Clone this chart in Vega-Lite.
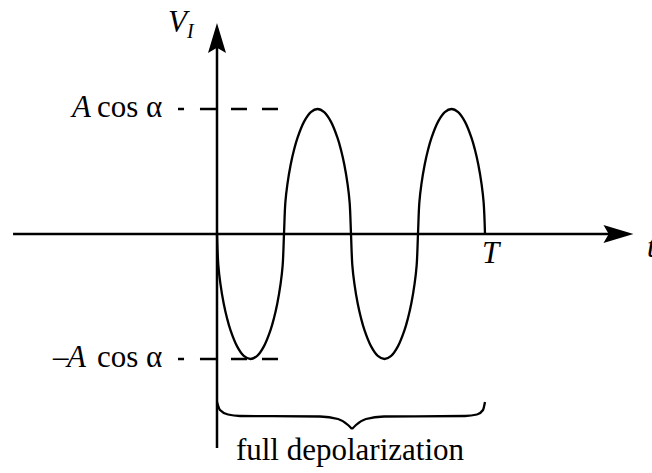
{
  "$schema": "https://vega.github.io/schema/vega-lite/v6.json",
  "width": 652,
  "height": 473,
  "autosize": {"type": "fit", "contains": "padding"},
  "padding": 0,
  "background": "white",
  "config": {"view": {"stroke": null}, "text": {"font": "Liberation Serif, Times New Roman, serif"}},
  "datasets": {
    "solid": [
      {"t": -1.522, "v": 0, "t2": 3.0, "v2": 0},
      {"t": 0, "v": -1.712, "t2": 0, "v2": 1.5},
      {"t": -0.291, "v": 1.0, "t2": -0.246, "v2": 1.0},
      {"t": -0.291, "v": -1.0, "t2": -0.246, "v2": -1.0}
    ],
    "dashed": [
      {"t": -0.127, "v": 1.0, "t2": 0.47, "v2": 1.0},
      {"t": -0.127, "v": -1.0, "t2": 0.47, "v2": -1.0}
    ],
    "wave": [
      {"t": 0, "v": 0}, {"t": 0.01, "v": -0.251}, {"t": 0.025, "v": -0.395}, {"t": 0.05, "v": -0.556},
      {"t": 0.075, "v": -0.674}, {"t": 0.1, "v": -0.767}, {"t": 0.15, "v": -0.899}, {"t": 0.2, "v": -0.975},
      {"t": 0.25, "v": -1}, {"t": 0.3, "v": -0.975}, {"t": 0.35, "v": -0.899}, {"t": 0.4, "v": -0.767},
      {"t": 0.425, "v": -0.674}, {"t": 0.45, "v": -0.556}, {"t": 0.475, "v": -0.395}, {"t": 0.49, "v": -0.251},
      {"t": 0.5, "v": 0}, {"t": 0.51, "v": 0.251}, {"t": 0.525, "v": 0.395}, {"t": 0.55, "v": 0.556},
      {"t": 0.575, "v": 0.674}, {"t": 0.6, "v": 0.767}, {"t": 0.65, "v": 0.899}, {"t": 0.7, "v": 0.975},
      {"t": 0.75, "v": 1}, {"t": 0.8, "v": 0.975}, {"t": 0.85, "v": 0.899}, {"t": 0.9, "v": 0.767},
      {"t": 0.925, "v": 0.674}, {"t": 0.95, "v": 0.556}, {"t": 0.975, "v": 0.395}, {"t": 0.99, "v": 0.251},
      {"t": 1.0, "v": 0}, {"t": 1.01, "v": -0.251}, {"t": 1.025, "v": -0.395}, {"t": 1.05, "v": -0.556},
      {"t": 1.075, "v": -0.674}, {"t": 1.1, "v": -0.767}, {"t": 1.15, "v": -0.899}, {"t": 1.2, "v": -0.975},
      {"t": 1.25, "v": -1}, {"t": 1.3, "v": -0.975}, {"t": 1.35, "v": -0.899}, {"t": 1.4, "v": -0.767},
      {"t": 1.425, "v": -0.674}, {"t": 1.45, "v": -0.556}, {"t": 1.475, "v": -0.395}, {"t": 1.49, "v": -0.251},
      {"t": 1.5, "v": 0}, {"t": 1.51, "v": 0.251}, {"t": 1.525, "v": 0.395}, {"t": 1.55, "v": 0.556},
      {"t": 1.575, "v": 0.674}, {"t": 1.6, "v": 0.767}, {"t": 1.65, "v": 0.899}, {"t": 1.7, "v": 0.975},
      {"t": 1.75, "v": 1}, {"t": 1.8, "v": 0.975}, {"t": 1.85, "v": 0.899}, {"t": 1.9, "v": 0.767},
      {"t": 1.925, "v": 0.674}, {"t": 1.95, "v": 0.556}, {"t": 1.975, "v": 0.395}, {"t": 1.99, "v": 0.251},
      {"t": 2.0, "v": 0}
    ],
    "brace": [
      {"part": "left", "t": 0, "v": -1.344},
      {"part": "left", "t": 0.0224, "v": -1.408},
      {"part": "left", "t": 0.0821, "v": -1.444},
      {"part": "left", "t": 0.1716, "v": -1.456},
      {"part": "left", "t": 0.7687, "v": -1.46},
      {"part": "left", "t": 0.903, "v": -1.48},
      {"part": "left", "t": 0.9776, "v": -1.528},
      {"part": "left", "t": 1.0075, "v": -1.56},
      {"part": "right", "t": 1.0075, "v": -1.56},
      {"part": "right", "t": 1.0373, "v": -1.528},
      {"part": "right", "t": 1.1119, "v": -1.48},
      {"part": "right", "t": 1.2463, "v": -1.46},
      {"part": "right", "t": 1.8507, "v": -1.456},
      {"part": "right", "t": 1.9403, "v": -1.444},
      {"part": "right", "t": 1.9851, "v": -1.408},
      {"part": "right", "t": 2.0, "v": -1.344}
    ],
    "harrow": [{"t": 3.108, "v": 0}],
    "varrow": [{"t": 0, "v": 1.688}],
    "italic": [
      {"t": -0.3657, "v": 1.616, "label": "V"},
      {"t": -1.0821, "v": 0.936, "label": "A"},
      {"t": -1.1194, "v": -1.064, "label": "A"},
      {"t": 1.9776, "v": -0.232, "label": "T"}
    ],
    "sub": [{"t": -0.2239, "v": 1.568, "label": "I"}],
    "tlabel": [{"t": 3.209, "v": -0.184, "label": "t"}],
    "upright": [
      {"t": -0.896, "v": 0.936, "label": "cos α"},
      {"t": -0.896, "v": -1.064, "label": "cos α"},
      {"t": -1.224, "v": -1.064, "label": "–"}
    ],
    "caption": [{"t": 0.9925, "v": -1.808, "label": "full depolarization"}]
  },
  "layer": [
    {
      "data": {"name": "solid"},
      "mark": {"type": "rule", "color": "black", "strokeWidth": 2.5},
      "encoding": {
        "x": {"field": "t", "type": "quantitative", "scale": {"domain": [-1.6194, 3.2463], "nice": false, "zero": false}, "axis": null},
        "y": {"field": "v", "type": "quantitative", "scale": {"domain": [-1.912, 1.872], "nice": false, "zero": false}, "axis": null},
        "x2": {"field": "t2"},
        "y2": {"field": "v2"}
      }
    },
    {
      "data": {"name": "dashed"},
      "mark": {"type": "rule", "color": "black", "strokeWidth": 2.5, "strokeDash": [16, 15]},
      "encoding": {
        "x": {"field": "t", "type": "quantitative", "axis": null},
        "y": {"field": "v", "type": "quantitative", "axis": null},
        "x2": {"field": "t2"},
        "y2": {"field": "v2"}
      }
    },
    {
      "data": {"name": "wave"},
      "mark": {"type": "line", "color": "black", "strokeWidth": 2.3, "interpolate": "catmull-rom"},
      "encoding": {
        "x": {"field": "t", "type": "quantitative", "axis": null},
        "y": {"field": "v", "type": "quantitative", "axis": null},
        "order": {"field": "t"}
      }
    },
    {
      "data": {"name": "brace"},
      "mark": {"type": "line", "color": "black", "strokeWidth": 2.3, "interpolate": "monotone"},
      "encoding": {
        "x": {"field": "t", "type": "quantitative", "axis": null},
        "y": {"field": "v", "type": "quantitative", "axis": null},
        "detail": {"field": "part"},
        "order": {"field": "t"}
      }
    },
    {
      "data": {"name": "harrow"},
      "mark": {"type": "point", "filled": true, "color": "black", "opacity": 1, "strokeWidth": 0, "size": 900, "shape": "M0,0 L-2,-0.6 L-1.65,0 L-2,0.6 Z"},
      "encoding": {
        "x": {"field": "t", "type": "quantitative", "axis": null},
        "y": {"field": "v", "type": "quantitative", "axis": null}
      }
    },
    {
      "data": {"name": "varrow"},
      "mark": {"type": "point", "filled": true, "color": "black", "opacity": 1, "strokeWidth": 0, "size": 900, "shape": "M0,0 L-0.6,2 L0,1.65 L0.6,2 Z"},
      "encoding": {
        "x": {"field": "t", "type": "quantitative", "axis": null},
        "y": {"field": "v", "type": "quantitative", "axis": null}
      }
    },
    {
      "data": {"name": "italic"},
      "mark": {"type": "text", "fontSize": 31, "fontStyle": "italic", "align": "left", "baseline": "alphabetic", "color": "black"},
      "encoding": {
        "x": {"field": "t", "type": "quantitative", "axis": null},
        "y": {"field": "v", "type": "quantitative", "axis": null},
        "text": {"field": "label"}
      }
    },
    {
      "data": {"name": "sub"},
      "mark": {"type": "text", "fontSize": 20, "fontStyle": "italic", "align": "left", "baseline": "alphabetic", "color": "black"},
      "encoding": {
        "x": {"field": "t", "type": "quantitative", "axis": null},
        "y": {"field": "v", "type": "quantitative", "axis": null},
        "text": {"field": "label"}
      }
    },
    {
      "data": {"name": "tlabel"},
      "mark": {"type": "text", "fontSize": 31, "fontStyle": "italic", "align": "left", "baseline": "alphabetic", "color": "black", "clip": true},
      "encoding": {
        "x": {"field": "t", "type": "quantitative", "axis": null},
        "y": {"field": "v", "type": "quantitative", "axis": null},
        "text": {"field": "label"}
      }
    },
    {
      "data": {"name": "upright"},
      "mark": {"type": "text", "fontSize": 31, "align": "left", "baseline": "alphabetic", "color": "black"},
      "encoding": {
        "x": {"field": "t", "type": "quantitative", "axis": null},
        "y": {"field": "v", "type": "quantitative", "axis": null},
        "text": {"field": "label"}
      }
    },
    {
      "data": {"name": "caption"},
      "mark": {"type": "text", "fontSize": 31, "align": "center", "baseline": "alphabetic", "color": "black"},
      "encoding": {
        "x": {"field": "t", "type": "quantitative", "axis": null},
        "y": {"field": "v", "type": "quantitative", "axis": null},
        "text": {"field": "label"}
      }
    }
  ]
}
